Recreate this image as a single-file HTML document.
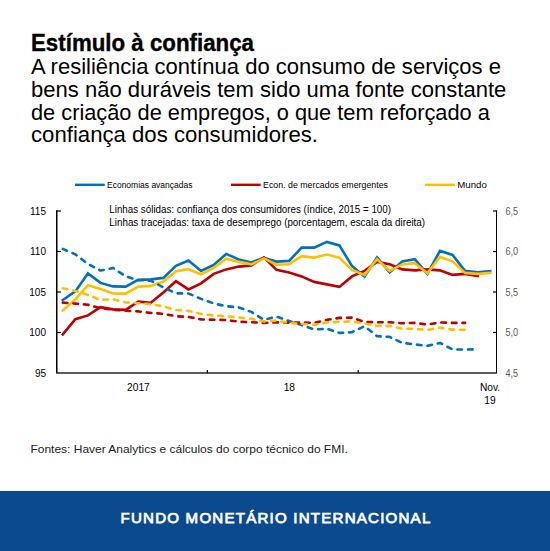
<!DOCTYPE html>
<html><head><meta charset="utf-8"><style>
html,body{margin:0;padding:0;background:#fff;width:550px;height:551px;overflow:hidden}
svg{display:block}
text{font-family:"Liberation Sans",sans-serif}
</style></head><body>
<svg width="550" height="551" viewBox="0 0 550 551">
<rect x="0" y="0" width="550" height="551" fill="#fff"/>
<text x="31" y="51" font-size="23" font-weight="bold" fill="#000" stroke="#000" stroke-width="0.35" textLength="223" lengthAdjust="spacingAndGlyphs">Estímulo à confiança</text>
<text x="31" y="73.5" font-size="22.5" fill="#000" textLength="470" lengthAdjust="spacingAndGlyphs">A resiliência contínua do consumo de serviços e</text>
<text x="31" y="96.8" font-size="22.5" fill="#000" textLength="475.3" lengthAdjust="spacingAndGlyphs">bens não duráveis tem sido uma fonte constante</text>
<text x="31" y="119.9" font-size="22.5" fill="#000" textLength="458.8" lengthAdjust="spacingAndGlyphs">de criação de empregos, o que tem reforçado a</text>
<text x="31" y="142.4" font-size="22.5" fill="#000" textLength="287" lengthAdjust="spacingAndGlyphs">confiança dos consumidores.</text>
<line x1="75" y1="184.8" x2="104.7" y2="184.8" stroke="#0070c0" stroke-width="2.4"/>
<line x1="231" y1="184.8" x2="260.6" y2="184.8" stroke="#c00000" stroke-width="2.4"/>
<line x1="425" y1="184.8" x2="455" y2="184.8" stroke="#ffc000" stroke-width="2.4"/>
<text x="107" y="188" font-size="8.5" fill="#000" textLength="85.5" lengthAdjust="spacingAndGlyphs">Economias avançadas</text>
<text x="263" y="188" font-size="8.5" fill="#000" textLength="125" lengthAdjust="spacingAndGlyphs">Econ. de mercados emergentes</text>
<text x="457.3" y="188" font-size="8.5" fill="#000" textLength="29.5" lengthAdjust="spacingAndGlyphs">Mundo</text>
<text x="109.3" y="212.5" font-size="10" fill="#000" textLength="281.7" lengthAdjust="spacingAndGlyphs">Linhas sólidas: confiança dos consumidores (índice, 2015 = 100)</text>
<text x="109.3" y="226.1" font-size="10" fill="#000" textLength="315.8" lengthAdjust="spacingAndGlyphs">Linhas tracejadas: taxa de desemprego (porcentagem, escala da direita)</text>
<line x1="56.75" y1="210.5" x2="56.75" y2="373" stroke="#000" stroke-width="1.5"/>
<line x1="496.5" y1="210.5" x2="496.5" y2="373" stroke="#000" stroke-width="1"/>
<line x1="56" y1="373" x2="497" y2="373" stroke="#262626" stroke-width="1.5"/>
<line x1="56" y1="211.0" x2="61" y2="211.0" stroke="#000" stroke-width="1.2"/>
<line x1="493" y1="211.0" x2="497" y2="211.0" stroke="#000" stroke-width="1.2"/>
<text x="46" y="214.6" font-size="10" fill="#000" text-anchor="end">115</text>
<line x1="56" y1="251.5" x2="61" y2="251.5" stroke="#000" stroke-width="1.2"/>
<line x1="493" y1="251.5" x2="497" y2="251.5" stroke="#000" stroke-width="1.2"/>
<text x="46" y="255.1" font-size="10" fill="#000" text-anchor="end">110</text>
<line x1="56" y1="292.0" x2="61" y2="292.0" stroke="#000" stroke-width="1.2"/>
<line x1="493" y1="292.0" x2="497" y2="292.0" stroke="#000" stroke-width="1.2"/>
<text x="46" y="295.6" font-size="10" fill="#000" text-anchor="end">105</text>
<line x1="56" y1="332.5" x2="61" y2="332.5" stroke="#000" stroke-width="1.2"/>
<line x1="493" y1="332.5" x2="497" y2="332.5" stroke="#000" stroke-width="1.2"/>
<text x="46" y="336.1" font-size="10" fill="#000" text-anchor="end">100</text>
<text x="46" y="376.6" font-size="10" fill="#000" text-anchor="end">95</text>
<text x="505.5" y="214.6" font-size="10" fill="#595959" textLength="12.6" lengthAdjust="spacingAndGlyphs">6,5</text>
<text x="505.5" y="255.1" font-size="10" fill="#595959" textLength="12.6" lengthAdjust="spacingAndGlyphs">6,0</text>
<text x="505.5" y="295.6" font-size="10" fill="#595959" textLength="12.6" lengthAdjust="spacingAndGlyphs">5,5</text>
<text x="505.5" y="336.1" font-size="10" fill="#595959" textLength="12.6" lengthAdjust="spacingAndGlyphs">5,0</text>
<text x="505.5" y="376.6" font-size="10" fill="#595959" textLength="12.6" lengthAdjust="spacingAndGlyphs">4,5</text>
<line x1="207.36" y1="370" x2="207.36" y2="373" stroke="#000" stroke-width="1.2"/>
<line x1="358.21" y1="370" x2="358.21" y2="373" stroke="#000" stroke-width="1.2"/>
<text x="138.4" y="390.8" font-size="10.2" fill="#000" text-anchor="middle">2017</text>
<text x="289.3" y="390.8" font-size="10.2" fill="#000" text-anchor="middle">18</text>
<text x="490" y="390.6" font-size="10.2" fill="#000" text-anchor="middle">Nov.</text>
<text x="490" y="404" font-size="10.2" fill="#000" text-anchor="middle">19</text>
<polyline points="62.79,300.00 75.36,291.40 87.93,273.40 100.50,282.90 113.07,286.40 125.64,286.60 138.21,279.90 150.79,279.40 163.36,277.90 175.93,265.90 188.50,260.60 201.07,270.90 213.64,264.90 226.21,253.90 238.79,259.40 251.36,262.40 263.93,257.90 276.50,261.60 289.07,260.90 301.64,247.60 314.21,247.60 326.79,241.90 339.36,245.40 351.93,265.90 364.50,276.60 377.07,257.40 389.64,272.40 402.21,261.40 414.79,259.20 427.36,273.90 439.93,250.90 452.50,254.90 465.07,270.90 477.64,272.20 490.21,271.20" fill="none" stroke="#0070c0" stroke-width="2.6" stroke-linejoin="miter" stroke-linecap="square"/>
<polyline points="62.79,334.40 75.36,319.20 87.93,315.40 100.50,307.20 113.07,309.40 125.64,309.90 138.21,301.60 150.79,302.70 163.36,292.40 175.93,281.20 188.50,289.40 201.07,283.40 213.64,273.90 226.21,269.40 238.79,266.60 251.36,265.40 263.93,257.40 276.50,269.90 289.07,272.40 301.64,276.40 314.21,281.90 326.79,284.40 339.36,286.90 351.93,276.40 364.50,270.90 377.07,261.90 389.64,264.20 402.21,269.40 414.79,270.40 427.36,269.40 439.93,270.40 452.50,274.90 465.07,273.90 477.64,275.90" fill="none" stroke="#c00000" stroke-width="2.6" stroke-linejoin="miter" stroke-linecap="square"/>
<polyline points="62.79,310.40 75.36,299.40 87.93,285.20 100.50,288.90 113.07,293.50 125.64,293.60 138.21,286.60 150.79,285.90 163.36,281.60 175.93,271.20 188.50,269.20 201.07,274.40 213.64,267.90 226.21,258.70 238.79,261.90 251.36,264.40 263.93,258.40 276.50,264.60 289.07,264.20 301.64,256.20 314.21,257.60 326.79,254.60 339.36,257.60 351.93,269.90 364.50,274.90 377.07,259.20 389.64,270.90 402.21,264.40 414.79,263.20 427.36,273.20 439.93,256.90 452.50,261.40 465.07,272.90 477.64,273.90 490.21,272.90" fill="none" stroke="#ffc000" stroke-width="2.6" stroke-linejoin="miter" stroke-linecap="square"/>
<polyline points="62.79,248.90 75.36,254.40 87.93,263.90 100.50,270.60 113.07,267.90 125.64,276.40 138.21,280.10 150.79,280.70 163.36,287.40 175.93,293.30 188.50,293.50 201.07,298.90 213.64,303.40 226.21,306.20 238.79,307.40 251.36,311.90 263.93,319.90 276.50,316.60 289.07,321.00 301.64,325.10 314.21,329.40 326.79,328.70 339.36,332.90 351.93,332.20 364.50,326.20 377.07,336.20 389.64,336.90 402.21,342.90 414.79,344.40 427.36,345.90 439.93,342.90 452.50,349.40 465.07,349.60 477.64,349.20" fill="none" stroke="#0070c0" stroke-width="2.6" stroke-dasharray="4.6 6" stroke-linecap="round" stroke-linejoin="round"/>
<polyline points="62.79,302.60 75.36,303.60 87.93,304.70 100.50,308.40 113.07,309.70 125.64,310.70 138.21,311.40 150.79,312.90 163.36,313.90 175.93,316.20 188.50,316.90 201.07,319.40 213.64,319.70 226.21,320.10 238.79,321.60 251.36,322.20 263.93,322.90 276.50,322.40 289.07,322.60 301.64,322.40 314.21,322.90 326.79,319.90 339.36,317.90 351.93,317.60 364.50,321.90 377.07,322.20 389.64,322.20 402.21,323.20 414.79,322.90 427.36,324.60 439.93,322.40 452.50,322.90 465.07,322.90" fill="none" stroke="#c00000" stroke-width="2.6" stroke-dasharray="4.6 6" stroke-linecap="round" stroke-linejoin="round"/>
<polyline points="62.79,288.20 75.36,290.90 87.93,294.90 100.50,299.90 113.07,299.20 125.64,302.50 138.21,303.20 150.79,304.20 163.36,306.40 175.93,309.90 188.50,310.90 201.07,313.90 213.64,315.60 226.21,316.20 238.79,317.40 251.36,318.90 263.93,321.40 276.50,320.60 289.07,322.90 301.64,323.90 314.21,324.90 326.79,322.40 339.36,321.90 351.93,321.40 364.50,323.60 377.07,325.90 389.64,325.90 402.21,328.60 414.79,328.90 427.36,329.90 439.93,327.60 452.50,329.60 465.07,329.90" fill="none" stroke="#ffc000" stroke-width="2.6" stroke-dasharray="4.6 6" stroke-linecap="round" stroke-linejoin="round"/>
<text x="30.5" y="453.3" font-size="11.3" fill="#222" textLength="317.3" lengthAdjust="spacingAndGlyphs">Fontes: Haver Analytics e cálculos do corpo técnico do FMI.</text>
<rect x="0" y="491" width="550" height="60" fill="#0c4a8f"/>
<text x="120.5" y="523.3" font-size="14.9" font-weight="normal" fill="#fff" stroke="#fff" stroke-width="0.75" letter-spacing="1.2" textLength="311" lengthAdjust="spacingAndGlyphs">FUNDO MONETÁRIO INTERNACIONAL</text>
</svg>
</body></html>
